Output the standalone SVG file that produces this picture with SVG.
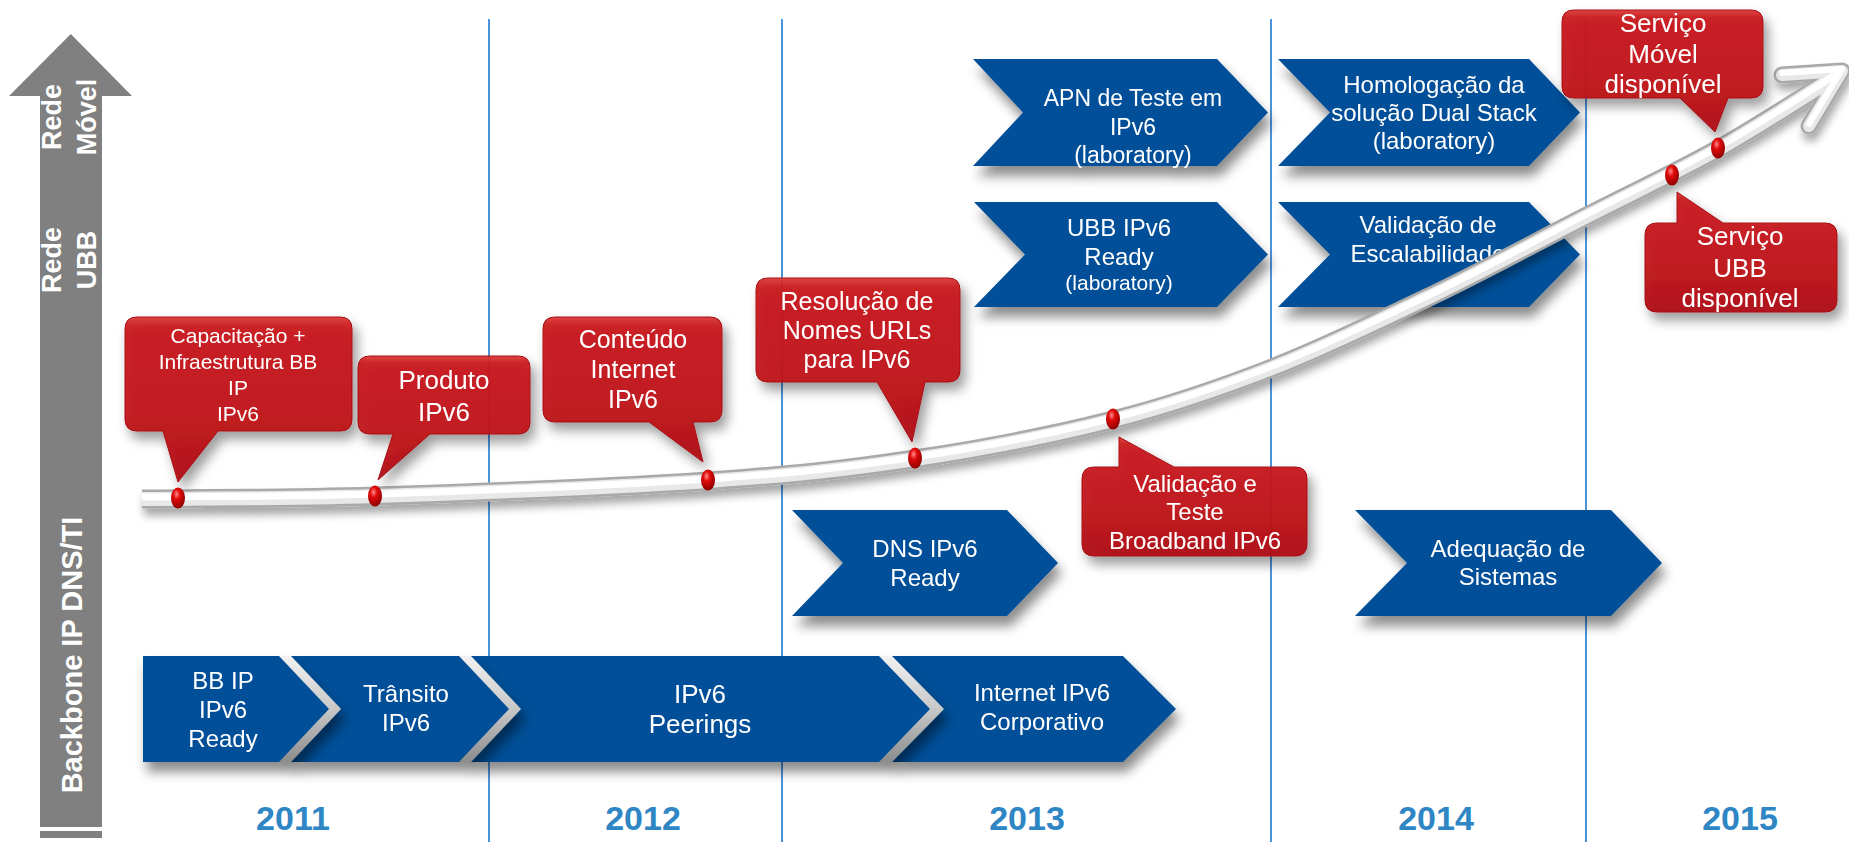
<svg xmlns="http://www.w3.org/2000/svg" width="1849" height="842" viewBox="0 0 1849 842">
<defs>
<style>
.t{font-family:"Liberation Sans",Arial,sans-serif;fill:#fff;text-anchor:middle}
.c{font-size:24px}
.yr{font-family:"Liberation Sans",Arial,sans-serif;font-weight:bold;font-size:34px;fill:#2e86c4;text-anchor:middle}
.side{font-family:"Liberation Sans",Arial,sans-serif;font-weight:bold;fill:#fff;text-anchor:middle}
.vl{stroke:#1f7ad4;stroke-width:1.6}
.chev{fill:#024f98}
.bev{fill:url(#bevg)}
.call{fill:url(#redg);fill-opacity:0.95;stroke:#a80f14;stroke-width:1}
.bead{fill:url(#beadg)}
.tube{fill:none;stroke-linecap:butt;stroke-linejoin:round}
.arm{fill:none;stroke-linecap:round;stroke-linejoin:round}
</style>
<linearGradient id="redg" x1="0" y1="0" x2="0" y2="1">
<stop offset="0" stop-color="#dc3a3a"/>
<stop offset="0.06" stop-color="#c91a1d"/>
<stop offset="0.6" stop-color="#c1141a"/>
<stop offset="1" stop-color="#af1015"/>
</linearGradient>
<linearGradient id="bevg" x1="0" y1="0" x2="0" y2="1">
<stop offset="0" stop-color="#f2f2f2"/>
<stop offset="0.5" stop-color="#c8c8c8"/>
<stop offset="1" stop-color="#8c8c8c"/>
</linearGradient>
<radialGradient id="beadg" cx="0.4" cy="0.32" r="0.7">
<stop offset="0" stop-color="#ff8a8a"/>
<stop offset="0.35" stop-color="#e00a0a"/>
<stop offset="1" stop-color="#8c0000"/>
</radialGradient>
<filter id="sh" x="-20%" y="-20%" width="150%" height="170%">
<feDropShadow dx="4" dy="10" stdDeviation="6" flood-color="#000" flood-opacity="0.45"/>
</filter>
<filter id="shc" x="-20%" y="-20%" width="150%" height="170%">
<feDropShadow dx="5" dy="8" stdDeviation="6" flood-color="#000" flood-opacity="0.4"/>
</filter>
<filter id="sht" x="-5%" y="-20%" width="110%" height="160%">
<feDropShadow dx="2" dy="7" stdDeviation="4" flood-color="#000" flood-opacity="0.35"/>
</filter>
</defs>
<rect width="1849" height="842" fill="#fff"/>

<g id="axis">
<polygon points="70.8,34 132,96 102,96 102,827 40,827 40,96 9,96" fill="#808080"/>
<rect x="40" y="831" width="62" height="7" fill="#808080"/>
<text class="side" font-size="27" transform="translate(61,260) rotate(-90)">Rede</text>
<text class="side" font-size="27" transform="translate(96,260) rotate(-90)">UBB</text>
<text class="side" font-size="27" transform="translate(61,117) rotate(-90)">Rede</text>
<text class="side" font-size="27" transform="translate(96,117) rotate(-90)">Móvel</text>
<text class="side" font-size="29" transform="translate(82,655) rotate(-90)">Backbone IP DNS/TI</text>
</g>

<g id="year-lines">
<line class="vl" x1="489" y1="19" x2="489" y2="842"/>
<line class="vl" x1="782" y1="19" x2="782" y2="842"/>
<line class="vl" x1="1271" y1="19" x2="1271" y2="842"/>
<line class="vl" x1="1586" y1="19" x2="1586" y2="842"/>
</g>

<g id="years">
<text class="yr" x="293" y="830">2011</text>
<text class="yr" x="643" y="830">2012</text>
<text class="yr" x="1027" y="830">2013</text>
<text class="yr" x="1436" y="830">2014</text>
<text class="yr" x="1740" y="830">2015</text>
</g>

<g id="n-apn" filter="url(#sh)">
<polygon class="chev" points="973,59 1217,59 1268,112.5 1217,166 973,166 1023,112.5"/>
<text class="t" font-size="23"><tspan x="1133" y="106">APN de Teste em</tspan><tspan x="1133" y="135">IPv6</tspan><tspan x="1133" y="163">(laboratory)</tspan></text>
</g>
<g id="n-ubb" filter="url(#sh)">
<polygon class="chev" points="974,202 1217,202 1268,254.5 1217,307 974,307 1025,254.5"/>
<text class="t c"><tspan x="1119" y="236">UBB IPv6</tspan><tspan x="1119" y="265">Ready</tspan></text>
<text class="t" font-size="21" x="1119" y="290">(laboratory)</text>
</g>
<g id="n-homolog" filter="url(#sh)">
<polygon class="chev" points="1278,59 1529,59 1580,112.5 1529,166 1278,166 1330,112.5"/>
<text class="t c"><tspan x="1434" y="93">Homologação da</tspan><tspan x="1434" y="121">solução Dual Stack</tspan><tspan x="1434" y="149">(laboratory)</tspan></text>
</g>
<g id="n-escal" filter="url(#sh)">
<polygon class="chev" points="1278,202 1529,202 1580,254.5 1529,307 1278,307 1330,254.5"/>
<text class="t c"><tspan x="1428" y="233">Validação de</tspan><tspan x="1428" y="262">Escalabilidade</tspan></text>
</g>
<g id="n-dns" filter="url(#sh)">
<polygon class="chev" points="792,510 1007,510 1058,563 1007,616 792,616 843,563"/>
<text class="t c"><tspan x="925" y="557">DNS IPv6</tspan><tspan x="925" y="586">Ready</tspan></text>
</g>
<g id="n-adequa" filter="url(#sh)">
<polygon class="chev" points="1355,510 1611,510 1662,563 1611,616 1355,616 1407,563"/>
<text class="t c"><tspan x="1508" y="557">Adequação de</tspan><tspan x="1508" y="585">Sistemas</tspan></text>
</g>

<g id="n-internet" filter="url(#sh)">
<polygon class="chev" points="890,656 1123,656 1176,709 1123,762 890,762 942,709"/>
<text class="t c"><tspan x="1042" y="701">Internet IPv6</tspan><tspan x="1042" y="730">Corporativo</tspan></text>
</g>
<g id="n-peerings" filter="url(#sh)">
<polygon class="bev" points="469,656 892,656 944,709 892,762 469,762 519,709"/>
<polygon class="chev" points="469,656 879,656 930,709 879,762 469,762 519,709"/>
<text class="t" font-size="26"><tspan x="700" y="703">IPv6</tspan><tspan x="700" y="733">Peerings</tspan></text>
</g>
<g id="n-transito" filter="url(#sh)">
<polygon class="bev" points="289,656 471,656 521,709 471,762 289,762 339,709"/>
<polygon class="chev" points="289,656 459,656 509,709 459,762 289,762 339,709"/>
<text class="t c"><tspan x="406" y="702">Trânsito</tspan><tspan x="406" y="731">IPv6</tspan></text>
</g>
<g id="n-bbip" filter="url(#sh)">
<polygon class="bev" points="143,656 291,656 341,709 291,762 143,762"/>
<polygon class="chev" points="143,656 279,656 329,709 279,762 143,762"/>
<text class="t c"><tspan x="223" y="689">BB IP</tspan><tspan x="223" y="718">IPv6</tspan><tspan x="223" y="747">Ready</tspan></text>
</g>

<g id="connectors">
<g id="timeline" filter="url(#sht)">
<path class="tube" stroke="#a9a9a9" stroke-width="19" d="M142,499 C180.8,498.5 280.7,499 375,496 C469.3,493 618,487.2 708,481 C798,474.8 847.5,469.2 915,459 C982.5,448.8 1053.5,435.2 1113,420 C1172.5,404.8 1218.7,388.8 1272,368 C1325.3,347.2 1380.8,320.2 1433,295 C1485.2,269.8 1537.5,241.3 1585,217 C1632.5,192.7 1675.5,172.8 1718,149 C1760.5,125.2 1819.7,86.5 1840,74"/>
<path class="arm" stroke="#a9a9a9" stroke-width="17" d="M1782,75 L1842,71 L1809,126"/>
<path class="tube" stroke="#e8e8e8" stroke-width="14" d="M142,499 C180.8,498.5 280.7,499 375,496 C469.3,493 618,487.2 708,481 C798,474.8 847.5,469.2 915,459 C982.5,448.8 1053.5,435.2 1113,420 C1172.5,404.8 1218.7,388.8 1272,368 C1325.3,347.2 1380.8,320.2 1433,295 C1485.2,269.8 1537.5,241.3 1585,217 C1632.5,192.7 1675.5,172.8 1718,149 C1760.5,125.2 1819.7,86.5 1840,74"/>
<path class="arm" stroke="#e8e8e8" stroke-width="12" d="M1782,75 L1842,71 L1809,126"/>
<g transform="translate(0,-2)">
<path class="tube" stroke="#ffffff" stroke-width="7" d="M142,499 C180.8,498.5 280.7,499 375,496 C469.3,493 618,487.2 708,481 C798,474.8 847.5,469.2 915,459 C982.5,448.8 1053.5,435.2 1113,420 C1172.5,404.8 1218.7,388.8 1272,368 C1325.3,347.2 1380.8,320.2 1433,295 C1485.2,269.8 1537.5,241.3 1585,217 C1632.5,192.7 1675.5,172.8 1718,149 C1760.5,125.2 1819.7,86.5 1840,74"/>
<path class="arm" stroke="#ffffff" stroke-width="6" d="M1782,75 L1842,71 L1809,126"/>
</g>
</g>
</g>

<g id="m-capacitacao" filter="url(#shc)">
<path class="call" d="M137,317 H340 Q352,317 352,329 V419 Q352,431 340,431 H218 L178,482 L163,431 H137 Q125,431 125,419 V329 Q125,317 137,317 Z"/>
<text class="t" font-size="21"><tspan x="238" y="343">Capacitação +</tspan><tspan x="238" y="369">Infraestrutura BB</tspan><tspan x="238" y="395">IP</tspan><tspan x="238" y="421">IPv6</tspan></text>
</g>
<g id="m-produto" filter="url(#shc)">
<path class="call" d="M370,356 H518 Q530,356 530,368 V422 Q530,434 518,434 H430 L378,480 L393,434 H370 Q358,434 358,422 V368 Q358,356 370,356 Z"/>
<text class="t" font-size="26"><tspan x="444" y="389">Produto</tspan><tspan x="444" y="421">IPv6</tspan></text>
</g>
<g id="m-conteudo" filter="url(#shc)">
<path class="call" d="M555,317 H710 Q722,317 722,329 V410 Q722,422 710,422 H693 L703,462 L649,422 H555 Q543,422 543,410 V329 Q543,317 555,317 Z"/>
<text class="t" font-size="25"><tspan x="633" y="348">Conteúdo</tspan><tspan x="633" y="378">Internet</tspan><tspan x="633" y="408">IPv6</tspan></text>
</g>
<g id="m-resolucao" filter="url(#shc)">
<path class="call" d="M768,278 H948 Q960,278 960,290 V370 Q960,382 948,382 H925 L912,442 L877,382 H768 Q756,382 756,370 V290 Q756,278 768,278 Z"/>
<text class="t" font-size="25"><tspan x="857" y="310">Resolução de</tspan><tspan x="857" y="339">Nomes URLs</tspan><tspan x="857" y="368">para IPv6</tspan></text>
</g>
<g id="m-validacao" filter="url(#shc)">
<path class="call" d="M1094,467 H1119 L1119,437 L1174,467 H1295 Q1307,467 1307,479 V544 Q1307,556 1295,556 H1094 Q1082,556 1082,544 V479 Q1082,467 1094,467 Z"/>
<text class="t c"><tspan x="1195" y="492">Validação e</tspan><tspan x="1195" y="520">Teste</tspan><tspan x="1195" y="549">Broadband IPv6</tspan></text>
</g>
<g id="m-movel" filter="url(#shc)">
<path class="call" d="M1574,10 H1751 Q1763,10 1763,22 V86 Q1763,98 1751,98 H1728 L1715,132 L1680,98 H1574 Q1562,98 1562,86 V22 Q1562,10 1574,10 Z"/>
<text class="t" font-size="26"><tspan x="1663" y="32">Serviço</tspan><tspan x="1663" y="63">Móvel</tspan><tspan x="1663" y="93">disponível</tspan></text>
</g>
<g id="m-ubb" filter="url(#shc)">
<path class="call" d="M1657,223 H1677 L1677,192 L1723,223 H1825 Q1837,223 1837,235 V300 Q1837,312 1825,312 H1657 Q1645,312 1645,300 V235 Q1645,223 1657,223 Z"/>
<text class="t" font-size="26"><tspan x="1740" y="245">Serviço</tspan><tspan x="1740" y="277">UBB</tspan><tspan x="1740" y="307">disponível</tspan></text>
</g>

<g id="beads">
<ellipse class="bead" cx="178" cy="498" rx="7" ry="10.5"/>
<ellipse class="bead" cx="375" cy="496" rx="7" ry="10.5"/>
<ellipse class="bead" cx="708" cy="480" rx="7" ry="10.5"/>
<ellipse class="bead" cx="915" cy="458" rx="7" ry="10.5"/>
<ellipse class="bead" cx="1113" cy="419" rx="7" ry="10.5"/>
<ellipse class="bead" cx="1672" cy="175" rx="7" ry="10.5"/>
<ellipse class="bead" cx="1718" cy="148" rx="7" ry="10.5"/>
</g>
</svg>
